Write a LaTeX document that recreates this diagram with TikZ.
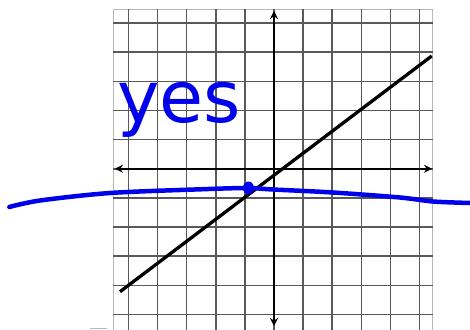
\documentclass[tikz,border=0pt]{standalone}
\usepackage{fontspec}
\usepackage{tikz}
\usetikzlibrary{arrows.meta}
\newfontfamily\handfont{DejaVu Sans}
\definecolor{inkblue}{RGB}{0,0,235}

\begin{document}
\begin{tikzpicture}[x=1pt, y=-1pt,
  gridln/.style={draw=black!65, line width=1.5pt},
  edgeln/.style={draw=black!28, line width=1pt},
  axis/.style={line width=2.5pt, {Stealth[length=8pt,width=8pt]}-{Stealth[length=8pt,width=8pt]}},
  ink/.style={draw=inkblue, line width=4.5pt, line cap=round, line join=round}]
\useasboundingbox (0,0) rectangle (470,329);
% graph paper
\draw[edgeln] (113.3,335) -- (113.3,9.3) -- (432.7,9.3) -- (432.7,335);
\draw[edgeln] (90,328) -- (107,328);
\foreach \i in {0,...,10} {
  \draw[gridln] ({128.5+29.1*\i},9.3) -- ({128.5+29.1*\i},335);
  \draw[gridln] (113.3,{23+29.15*\i}) -- (432.7,{23+29.15*\i});
}
% axes
\coordinate (xl) at (115,168.75);
\coordinate (xr) at (432,168.75);
\coordinate (yt) at (274,11);
\coordinate (yb) at (274,326);
\draw[axis] (xl) -- (xr);
\draw[axis] (yb) -- (yt);
% the line
\coordinate (la) at (120,291.7);
\coordinate (lb) at (431.7,56);
\draw[line width=3.3pt] (la) -- (lb);
% ink
\node[inkblue, font=\handfont\fontsize{64}{64}\selectfont, anchor=base west,
  inner sep=0, xscale=1.12, yscale=1.12] (yes) at (117,122) {yes};
\draw[ink] plot[smooth] coordinates {(9.3,207) (40,200.5) (110,193) (200,189.3)
  (247,188) (273,189.5) (333,192.5) (400,197.5) (433,201.5) (470,203)};
\fill[inkblue] (248.5,188) ellipse [x radius=5.5, y radius=6.5];
\end{tikzpicture}
\end{document}
